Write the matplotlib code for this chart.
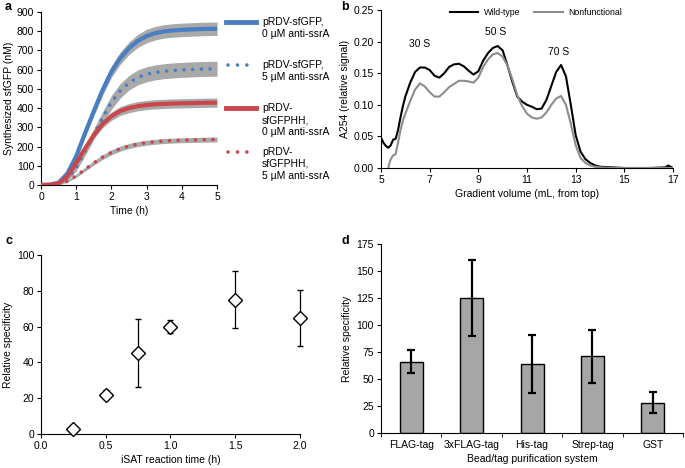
import numpy as np
import matplotlib.pyplot as plt
from matplotlib.lines import Line2D

plt.rcParams['font.family'] = ['Liberation Sans', 'DejaVu Sans']
plt.rcParams['font.size'] = 7.5
plt.rcParams['axes.linewidth'] = 0.8
plt.rcParams['xtick.major.size'] = 3
plt.rcParams['ytick.major.size'] = 3
plt.rcParams['xtick.major.width'] = 0.8
plt.rcParams['ytick.major.width'] = 0.8

# ---- panel a data: synthesized sfGFP (nM) vs time (h)
time_a = [0, 0.25, 0.5, 0.75, 1.0, 1.25, 1.5, 1.75, 2.0, 2.25, 2.5, 2.75, 3.0,
          3.25, 3.5, 3.75, 4.0, 4.25, 4.5, 4.75, 5.0]
gfp0 = [0, 2, 12, 60, 150, 270, 385, 495, 590, 660, 712, 750, 775, 790, 799, 804, 807, 809, 811, 812, 813]
gfp0_err = [0, 2, 6, 12, 18, 22, 26, 28, 30, 32, 33, 34, 35, 35, 35, 35, 35, 35, 35, 35, 35]
gfp5 = [0, 1, 5, 30, 90, 175, 265, 350, 430, 490, 532, 560, 576, 586, 592, 596, 599, 601, 603, 604, 605]
gfp5_err = [0, 1, 4, 10, 16, 22, 28, 32, 36, 38, 38, 39, 39, 39, 39, 39, 39, 39, 39, 39, 39]
gfphh0 = [0, 1, 8, 45, 115, 190, 260, 318, 358, 385, 400, 410, 416, 420, 422, 424, 425, 426, 427, 428, 428]
gfphh0_err = [0, 1, 4, 8, 12, 15, 18, 20, 22, 23, 24, 24, 24, 24, 24, 24, 24, 24, 24, 24, 24]
gfphh5 = [0, 0, 3, 20, 48, 82, 115, 145, 170, 189, 203, 213, 220, 225, 229, 231, 233, 234, 235, 236, 237]
gfphh5_err = [0, 0, 2, 5, 8, 10, 11, 12, 13, 13, 13, 13, 13, 13, 13, 13, 13, 13, 13, 13, 13]
labels_a = ['pRDV-sfGFP,\n0 \u00b5M anti-ssrA', 'pRDV-sfGFP,\n5 \u00b5M anti-ssrA',
            'pRDV-\nsfGFPHH,\n0 \u00b5M anti-ssrA', 'pRDV-\nsfGFPHH,\n5 \u00b5M anti-ssrA']

# ---- panel b data: A254 profiles
vol_wt = [5.0, 5.1, 5.2, 5.3, 5.4, 5.5, 5.6, 5.7, 5.8, 5.9, 6.0, 6.2, 6.4, 6.6, 6.8, 7.0, 7.2, 7.4, 7.6, 7.8,
          8.0, 8.2, 8.4, 8.6, 8.8, 9.0, 9.2, 9.4, 9.6, 9.8, 10.0, 10.2, 10.4, 10.6, 10.8, 11.0, 11.2,
          11.4, 11.6, 11.8, 12.0, 12.2, 12.4, 12.6, 12.8, 13.0, 13.2, 13.4, 13.6, 13.8, 14.0, 14.5,
          15.0, 16.0, 16.7, 16.8, 16.9, 17.0]
a254_wt = [0.048, 0.040, 0.035, 0.032, 0.036, 0.045, 0.046, 0.060, 0.080, 0.098, 0.113, 0.135, 0.152,
           0.159, 0.159, 0.155, 0.146, 0.143, 0.150, 0.160, 0.164, 0.165, 0.161, 0.154, 0.148, 0.153,
           0.170, 0.182, 0.190, 0.193, 0.186, 0.162, 0.136, 0.113, 0.105, 0.100, 0.097, 0.093, 0.094,
           0.108, 0.130, 0.152, 0.163, 0.145, 0.100, 0.052, 0.026, 0.014, 0.008, 0.004, 0.002, 0.001,
           0.000, 0.000, 0.001, 0.004, 0.002, 0.000]
vol_nf = [5.3, 5.35, 5.4, 5.5, 5.6, 5.7, 5.8, 5.9, 6.0, 6.2, 6.4, 6.6, 6.8, 7.0, 7.2, 7.4, 7.6, 7.8, 8.0,
          8.2, 8.4, 8.6, 8.8, 9.0, 9.2, 9.4, 9.6, 9.8, 10.0, 10.2, 10.4, 10.6, 10.8, 11.0, 11.2, 11.4,
          11.6, 11.8, 12.0, 12.2, 12.4, 12.6, 12.8, 13.0, 13.2, 13.4, 13.6, 13.8, 14.0, 14.5, 15.0, 16.0, 17.0]
a254_nf = [0.000, 0.008, 0.014, 0.020, 0.022, 0.040, 0.060, 0.075, 0.086, 0.106, 0.124, 0.134, 0.129,
           0.120, 0.113, 0.113, 0.120, 0.128, 0.133, 0.138, 0.138, 0.137, 0.135, 0.143, 0.160, 0.172,
           0.180, 0.182, 0.176, 0.162, 0.140, 0.115, 0.098, 0.086, 0.080, 0.078, 0.080, 0.088, 0.100,
           0.110, 0.114, 0.100, 0.070, 0.036, 0.016, 0.008, 0.004, 0.002, 0.001, 0.000, 0.000, 0.000, 0.000]
peak_names = ['30 S', '50 S', '70 S']
peak_x = [6.6, 9.7, 12.3]
peak_y = [0.196, 0.216, 0.183]

# ---- panel c data
isat_time = [0.25, 0.5, 0.75, 1.0, 1.5, 2.0]
isat_spec = [3, 22, 45, 60, 75, 65]
isat_err = [0, 2.5, 19, 3.5, 16, 15.7]

# ---- panel d data
tags = ['FLAG-tag', '3xFLAG-tag', 'His-tag', 'Strep-tag', 'GST']
tag_spec = [66, 125, 64, 71, 28]
tag_err = [10.5, 35.5, 27, 24.5, 9.5]

blue = '#4a7ec2'
red = '#c9474b'
band = '#a9a9a9'

fig = plt.figure(figsize=(6.85, 4.68), dpi=100)

def clean(ax):
    ax.spines['top'].set_visible(False)
    ax.spines['right'].set_visible(False)
    ax.tick_params(direction='out', pad=2)

# ---------------- a
ax = fig.add_axes([0.0599, 0.6047, 0.257, 0.3697])
clean(ax)
series = [(gfp0, gfp0_err, blue, '-'), (gfp5, gfp5_err, blue, ':'),
          (gfphh0, gfphh0_err, red, '-'), (gfphh5, gfphh5_err, red, ':')]
t = np.array(time_a)
for vals, err, col, ls in series:
    v = np.array(vals)
    e = np.array(err)
    ax.fill_between(t, v - e, v + e, color=band, lw=0, zorder=1)
for vals, err, col, ls in series:
    if ls == '-':
        ax.plot(t, vals, color=col, lw=3, zorder=3, solid_capstyle='butt')
    else:
        ax.plot(t, vals, color=col, lw=2.6, ls=(0, (0.01, 2.4)), dash_capstyle='round', zorder=3)
ax.set_xlim(0, 5)
ax.set_ylim(0, 900)
ax.set_yticks(range(0, 901, 100))
ax.set_xlabel('Time (h)', labelpad=3)
ax.set_ylabel('Synthesized sfGFP (nM)', labelpad=2)
# legend drawn beside the axes
hy = [22, 65, 108, 152]
for (vals, err, col, ls), lab, y in zip(series, labels_a, hy):
    yf = 1 - y / 468
    if ls == '-':
        fig.add_artist(Line2D([226 / 685, 256 / 685], [yf, yf], color=col, lw=3.5))
    else:
        fig.add_artist(Line2D([228 / 685, 256 / 685], [yf, yf], color=col, lw=2.6,
                              ls=(0, (0.01, 2.6)), dash_capstyle='round'))
    fig.text(262 / 685, yf + 5 / 468, lab, va='top', ha='left', fontsize=7.5, linespacing=1.25)
fig.text(5 / 685, 1 - 7 / 468, 'a', fontsize=9, fontweight='bold', va='center')

# ---------------- b
ax = fig.add_axes([0.5562, 0.641, 0.4263, 0.3376])
clean(ax)
ax.plot(vol_wt, a254_wt, color='black', lw=1.5, label='Wild-type')
ax.plot(vol_nf, a254_nf, color='#8c8c8c', lw=1.5, label='Nonfunctional')
for n, x, y in zip(peak_names, peak_x, peak_y):
    ax.text(x, y, n, ha='center', va='center', fontsize=7.5)
ax.set_xlim(5, 17)
ax.set_ylim(0, 0.25)
ax.set_xticks(range(5, 18, 2))
ax.set_yticks(np.arange(0, 0.26, 0.05))
ax.set_yticklabels(['%.2f' % v for v in np.arange(0, 0.26, 0.05)])
ax.set_xlabel('Gradient volume (mL, from top)', labelpad=3)
ax.set_ylabel('A254 (relative signal)', labelpad=3)
ax.legend(loc='upper center', bbox_to_anchor=(0.53, 1.06), ncol=2, frameon=False,
          handlelength=3.3, handletextpad=0.6, columnspacing=1.6, fontsize=6.3)
fig.text(341 / 685, 1 - 7 / 468, 'b', fontsize=9, fontweight='bold', va='center')

# ---------------- c
ax = fig.add_axes([0.0599, 0.0726, 0.378, 0.3825])
clean(ax)
eb = ax.errorbar(isat_time, isat_spec, yerr=isat_err, fmt='D', mfc='white', mec='black', mew=1.0,
                 ms=7, ecolor='black', elinewidth=0.9, capsize=2, capthick=0.9, zorder=3)
for art in eb.get_children():
    art.set_clip_on(False)
ax.set_xlim(0, 2.0)
ax.set_ylim(0, 100)
ax.set_xticks(np.arange(0, 2.01, 0.5))
ax.set_xticklabels(['%.1f' % v for v in np.arange(0, 2.01, 0.5)])
ax.set_yticks(range(0, 101, 20))
ax.set_xlabel('iSAT reaction time (h)', labelpad=3)
ax.set_ylabel('Relative specificity', labelpad=3)
fig.text(5 / 685, 1 - 241 / 468, 'c', fontsize=9, fontweight='bold', va='center')

# ---------------- d
ax = fig.add_axes([0.5562, 0.0748, 0.441, 0.4038])
clean(ax)
xpos = np.arange(len(tags))
ax.bar(xpos, tag_spec, width=0.38, color='#a6a6a6', edgecolor='black', lw=1.0,
       yerr=tag_err, error_kw=dict(ecolor='black', elinewidth=1.6, capsize=3, capthick=1.6))
ax.set_xlim(-0.5, 4.45)
ax.set_ylim(0, 175)
ax.set_yticks(range(0, 176, 25))
ax.set_xticks(xpos)
ax.set_xticklabels(tags)
ax.tick_params(axis='x', length=0, pad=5)
ax.set_xticks(np.arange(-0.5, 4.6, 1.0), minor=True)
ax.tick_params(axis='x', which='minor', length=3, direction='out')
ax.set_xlabel('Bead/tag purification system', labelpad=3)
ax.set_ylabel('Relative specificity', labelpad=3)
fig.text(341 / 685, 1 - 241 / 468, 'd', fontsize=9, fontweight='bold', va='center')

fig.savefig('out.png', dpi=100)
